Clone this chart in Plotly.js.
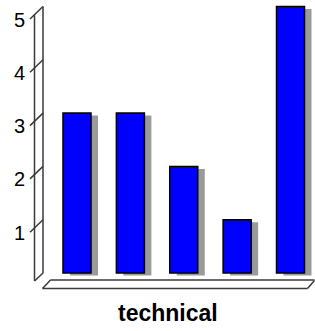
<!DOCTYPE html>
<html><head><meta charset="utf-8">
<script src="https://cdn.plot.ly/plotly-3.0.1.min.js"></script>
<style>html,body{margin:0;padding:0;background:#fff;overflow:hidden}</style>
</head><body>
<div id="chart" style="width:315px;height:331px"></div>
<script>
// ---- data ----
const categories = ['1', '2', '3', '4', '5'];
const values = [3, 3, 2, 1, 5];
const tickValues = [1, 2, 3, 4, 5];
const tickLabels = ['1', '2', '3', '4', '5'];
const axisTitle = 'technical';

// ---- geometry (pixels) ----
const W = 315, H = 331, L = 43, R = 0, T = 0, B = 41;
const plotW = W - L - R, plotH = H - T - B;
const xRange = [-0.637, 4.459], yRange = [-0.319, 5.122];
const pxPerY = plotH / (yRange[1] - yRange[0]);
const px = p => (p - L) / plotW;          // pixel x -> paper x
const dy = p => p / pxPerY;               // pixel height -> y data units
const barW = 0.525;
const shadowDX = 7 / (plotW / (xRange[1] - xRange[0]));
const lineStyle = {color: '#3a3a3a', width: 1.5};
const font = 'Liberation Sans, Arial, sans-serif';

const shadow = {
  type: 'bar', x: categories, y: values, base: -dy(2.5),
  width: barW, offset: -barW / 2 + shadowDX,
  marker: {color: '#9a9a9a', line: {width: 0}},
  hoverinfo: 'skip', showlegend: false
};
const bars = {
  type: 'bar', x: categories, y: values,
  width: barW, offset: -barW / 2,
  marker: {color: '#0000ff', line: {color: '#000000', width: 1.5}},
  showlegend: false
};

const topV = tickValues[tickValues.length - 1];
const shapes = [];
function seg(x0, y0, x1, y1) {
  shapes.push({type: 'line', xref: 'paper', yref: 'y', x0, y0, x1, y1, line: lineStyle, layer: 'above'});
}
// wall
seg(0, 0, 0, topV);
seg(px(34.5), -dy(8), px(34.5), topV - dy(8));
seg(px(34.5), -dy(8), 0, 0);
tickValues.forEach(v => seg(px(30), v - dy(12.5), 0, v));
// floor
seg(px(50.5), -dy(7), px(314.5), -dy(7));
seg(px(42.5), -dy(15.5), px(307.5), -dy(15.5));
seg(px(42.5), -dy(15.5), px(50.5), -dy(7));
seg(px(307.5), -dy(15.5), px(314.5), -dy(7.5));

const annotations = tickValues.map((v, i) => ({
  xref: 'paper', yref: 'y', x: px(27), y: v - dy(13),
  xanchor: 'right', yanchor: 'middle', showarrow: false,
  text: tickLabels[i], font: {family: font, size: 20, color: '#000'}
}));
annotations.push({
  xref: 'paper', yref: 'paper', x: px(167.5), y: (plotH - (313 - T)) / plotH,
  xanchor: 'center', yanchor: 'middle', showarrow: false,
  text: axisTitle, font: {family: font, size: 23, color: '#000', weight: 'bold'}
});

const layout = {
  width: W, height: H,
  margin: {l: L, r: R, t: T, b: B, pad: 0},
  paper_bgcolor: '#fff', plot_bgcolor: '#fff',
  barmode: 'overlay',
  xaxis: {type: 'category', range: xRange, visible: false, fixedrange: true},
  yaxis: {range: yRange, visible: false, fixedrange: true},
  shapes, annotations
};
Plotly.newPlot('chart', [shadow, bars], layout, {displayModeBar: false, staticPlot: true});
</script>
</body></html>
